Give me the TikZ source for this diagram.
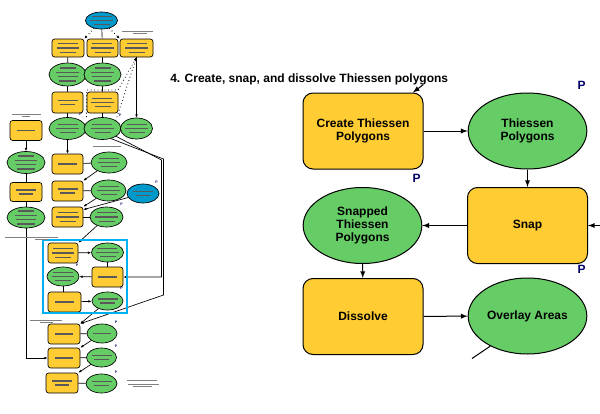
\documentclass[tikz,border=0pt]{standalone}
\usepackage{fontspec}
\setmainfont{Liberation Sans}
\usetikzlibrary{shapes}
\usetikzlibrary{arrows,arrows.meta}

\definecolor{toolyellow}{RGB}{255,204,51}
\definecolor{datagreen}{RGB}{102,204,102}
\definecolor{inblue}{RGB}{0,153,204}
\definecolor{frameblue}{RGB}{0,176,240}
\definecolor{pnavy}{RGB}{0,0,102}

% greeked lines for the overview thumbnail
\newcommand{\gl}[1]{\rule{#1pt}{1pt}}
\newcommand{\gkA}{\gl{14}}
\newcommand{\gkB}{\gl{15}\\\gl{11}}
\newcommand{\gkC}{\gl{15}\\\gl{17}\\\gl{12}}
\newcommand{\gkD}{\gl{12}\\\gl{17}\\\gl{15}\\\gl{13}}

\begin{document}
\begin{tikzpicture}[x=0.75pt,y=-0.75pt,
    sz/.style 2 args={minimum width=#1*0.75pt, minimum height=#2*0.75pt},
    tool/.style={draw=black, line width=0.75pt, fill=toolyellow, rounded corners=7.5pt,
      minimum width=90pt, minimum height=57pt, inner sep=0pt, align=center,
      font=\bfseries\fontsize{9}{9.8}\selectfont},
    data/.style={ellipse, draw=black, line width=0.75pt, fill=datagreen,
      minimum width=89pt, minimum height=57pt, inner sep=0pt, align=center,
      font=\bfseries\fontsize{9}{9.8}\selectfont},
    pmark/.style={text=pnavy, inner sep=0pt, font=\bfseries\fontsize{9}{9}\selectfont},
    link/.style={black, line width=0.75pt},
    stool/.style={draw=black, line width=0.5pt, fill=toolyellow, rounded corners=2pt,
      inner sep=0pt, align=center, text=black!65, font=\fontsize{2}{3.2}\selectfont},
    sdata/.style={stool, ellipse, fill=datagreen},
    sin/.style={stool, ellipse, fill=inblue},
    sline/.style={black, line width=0.5pt},
    sdot/.style={black, line width=0.6pt, dotted},
    sarrow/.style={-{Latex[length=2.4pt,width=2pt]}},
    spmark/.style={text=pnavy, inner sep=0pt, font=\bfseries\fontsize{2.6}{2.6}\selectfont},
    sgreek/.style={black!50, line width=0.6pt}]
  \useasboundingbox (0,0) rectangle (600,414);

  %% overview thumbnail
  \node[sin,sz={31}{17}] (sIn) at (101.5,20.5) {\gkC};
  \node[stool,sz={32}{18}] (sB1) at (68,48) {\gkC};
  \node[stool,sz={31}{18}] (sB2) at (102.5,48) {\gkC};
  \node[stool,sz={33}{18}] (sB3) at (136.5,48) {\gkC};
  \node[sdata,sz={37}{23}] (sE1) at (67.5,74.5) {\gkD};
  \node[sdata,sz={37}{23}] (sE2) at (102.5,74.5) {\gkD};
  \node[stool,sz={31}{21}] (sB4) at (67.5,102.5) {\gkB};
  \node[stool,sz={31}{21}] (sB5) at (102.5,102.5) {\gkC};
  \node[stool,sz={32}{20}] (sB6) at (26,130.5) {\gkA};
  \node[sdata,sz={37}{22}] (sE3) at (67.5,128.5) {\gkC};
  \node[sdata,sz={37}{22}] (sE4) at (102.5,128.5) {\gkC};
  \node[sdata,sz={31}{21}] (sE5) at (136.5,128.5) {\gkC};
  \node[sdata,sz={38}{22}] (sE6) at (26,162.5) {\gkD};
  \node[stool,sz={32}{19}] (sB7) at (26,192) {\gkB};
  \node[sdata,sz={38}{21}] (sE7) at (26,217.5) {\gkD};
  \node[stool,sz={31}{20}] (sB8) at (67.5,164) {\gkA};
  \node[sdata,sz={36}{21}] (sE8) at (109,162.5) {\gkC};
  \node[stool,sz={31}{20}] (sB9) at (67.5,191) {\gkB};
  \node[sdata,sz={35}{21}] (sE9) at (108.5,190.5) {\gkC};
  \node[sin,sz={32}{19}] (sIn2) at (143,193.5) {\gkB};
  \node[stool,sz={31}{20}] (sB10) at (67.5,217) {\gkC};
  \node[sdata,sz={33}{20}] (sE10) at (106.5,217) {\gkC};
  \node[stool,sz={30}{20}] (sCreate) at (63,253) {\gkC};
  \node[sdata,sz={31}{19}] (sThiessen) at (107.5,252.5) {\gkC};
  \node[sdata,sz={30}{19}] (sSnapped) at (63,276.5) {\gkC};
  \node[stool,sz={31}{20}] (sSnap) at (107.5,277) {\gkA};
  \node[stool,sz={33}{20}] (sDissolve) at (64.5,302) {\gkA};
  \node[sdata,sz={31}{18}] (sOverlay) at (107.5,301) {\gkB};
  \node[stool,sz={32}{20}] (sB11) at (64,334) {\gkA};
  \node[sdata,sz={30}{19}] (sE11) at (102,333.5) {\gkA};
  \node[stool,sz={32}{20}] (sMerge) at (64,358) {\gkA};
  \node[sdata,sz={30}{19}] (sE12) at (101.5,357.5) {\gkB};
  \node[stool,sz={32}{20}] (sB13) at (62,383) {\gkB};
  \node[sdata,sz={31}{19}] (sE13) at (101.5,383.5) {\gkB};

  \draw[sdot,sarrow] (sIn) -- (sB1.north east);
  \draw[sline] (sIn) -- (sB2);
  \draw[sdot,sarrow] (sIn) -- (sB3.north west);
  \draw[sline] (sB1) -- (sE1) (sB2) -- (sE2) (sE1) -- (sB4) (sE2) -- (sB5);
  \draw[sline] (sB4) -- (sE3) (sB5) -- (sE4);
  \coordinate (sPre) at (86.5,117);
  \draw[sdot,sarrow] (sPre) |- (118,90) -- (sB3.south);
  \draw[sdot,sarrow] (sE4.north east) -- (sB3.south);
  \draw[sline,sarrow] (sB3) -- (sE5);
  \draw[sline,sarrow] (sB6) -- (sE6);
  \draw[sline] (sE6) -- (sB7) (sB7) -- (sE7);
  \draw[sline,sarrow] (sE7) |- (sMerge);
  \draw[sline,sarrow] (sE3) -- (sB8);
  \draw[sline] (sB8) -- (sE8);
  \draw[sline,sarrow] (sE8) -- (sB9.north east);
  \draw[sline] (sB9) -- (sE9);
  \draw[sline,sarrow] (sE9) -- (sB10.north east);
  \draw[sline,sarrow] (sIn2) -- (sB10.25);
  \draw[sline] (sB10) -- (sE10);
  \draw[sline,sarrow] (sE10) -- (sCreate.north east);
  \draw[sline,sarrow] (sCreate) -- (sThiessen);
  \draw[sline] (sThiessen) -- (sSnap);
  \draw[sline,sarrow] (sSnap) -- (sSnapped);
  \draw[sline] (sSnapped) -- (sSnapped |- sDissolve.north);
  \draw[sline,sarrow] (sDissolve) -- (sOverlay);
  \draw[sline,sarrow] (sOverlay) -- (sB11.north east);
  \draw[sline] (sB11) -- (sE11);
  \draw[sline,sarrow] (sE11) -- (sMerge.north east);
  \draw[sline] (sMerge) -- (sE12);
  \draw[sline,sarrow] (sE12) -- (sB13.north east);
  \draw[sline] (sB13) -- (sE13);
  \draw[sline,sarrow] (sE4.-30) -- (161.5,160) |- (sSnap.east);
  \draw[sline,sarrow] (sE4.-50) -- (163.5,159) -- (163.5,295) -- (sB11.north east);

  \draw[frameblue, line width=1.5pt] (43,240) rectangle (127,313);

  \node[spmark] (sp1) at (80.5,114.5) {P};
  \node[spmark] (sp2) at (120,115.5) {P};
  \node[spmark] (sp3) at (156.5,182) {P};
  \node[spmark] (sp4) at (121.5,204) {P};
  \node[spmark] (sp5) at (77,265) {P};
  \node[spmark] (sp6) at (121.5,288.5) {P};
  \node[spmark] (sp7) at (116,322) {P};
  \node[spmark] (sp8) at (116,346) {P};
  \node[spmark] (sp9) at (116,372) {P};

  \draw[sgreek] (122,31) -- (153,31) (133,33.5) -- (147,33.5);
  \draw[sgreek] (12,114) -- (41,114) (22,116.5) -- (30,116.5);
  \draw[sgreek] (93,146.5) -- (121,146.5);
  \draw[sgreek] (5,237) -- (58,237) (35,239.5) -- (48,239.5);
  \draw[sgreek] (30,320.5) -- (62,320.5) (40,322.5) -- (53,322.5);
  \draw[sgreek] (127,380.5) -- (157,380.5) (128,384) -- (159,384) (133,386.5) -- (152,386.5);

  %% enlarged part
  \node[anchor=west, inner sep=0pt, font=\bfseries\fontsize{9}{9}\selectfont] (title) at (170,79)
    {4. Create, snap, and dissolve Thiessen polygons};

  \node[tool] (create) at (363,131) {Create Thiessen\\Polygons};
  \node[data] (thiessen) at (527.5,131) {Thiessen\\Polygons};
  \node[tool] (snap) at (527.5,225.5) {Snap};
  \node[data] (snapped) at (362.5,225.5) {Snapped\\Thiessen\\Polygons};
  \node[tool] (dissolve) at (363,316.5) {Dissolve};
  \node[data] (overlay) at (527.5,316) {Overlay Areas};

  \node[pmark] (pThiessen) at (581.5,85) {P};
  \node[pmark] (pCreate) at (416.5,178.5) {P};
  \node[pmark] (pSnap) at (581.5,269.5) {P};

  \draw[link,-latex] ([xshift=-19pt]title.south east) -- ([xshift=-8pt]create.north east);
  \draw[link,-latex] (create) -- (thiessen);
  \draw[link,-latex] (thiessen) -- (snap);
  \coordinate (snapIn) at (600,225.5);
  \draw[link,-latex] (snapIn) -- (snap);
  \draw[link,-latex] (snap) -- (snapped);
  \draw[link,-latex] (snapped) -- (dissolve);
  \draw[link,-latex] (dissolve) -- (overlay);
  \coordinate (overlayOut) at (472,358.5);
  \draw[link] (overlay.-141) -- (overlayOut);
\end{tikzpicture}
\end{document}
